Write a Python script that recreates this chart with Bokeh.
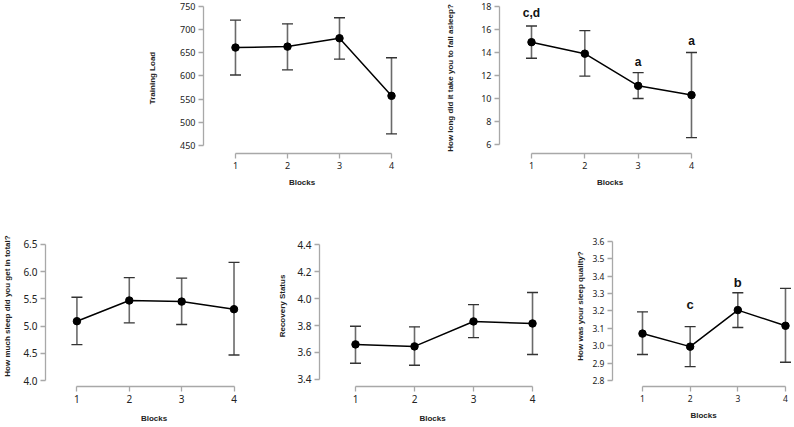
from bokeh.plotting import figure
from bokeh.layouts import row, column
from bokeh.models import (ColumnDataSource, Range1d, FixedTicker, Whisker, TeeHead,
                          PrintfTickFormatter, Spacer)
from bokeh.embed import file_html
from bokeh.resources import INLINE
from bokeh.core.properties import value

blocks = [1, 2, 3, 4]

# Training load per block (mean, lower, upper)
load_mean = [661, 663, 681, 557]
load_lo = [602, 613, 636, 475]
load_hi = [720, 712, 725, 639]

# Sleep latency
latency_mean = [14.9, 13.9, 11.1, 10.3]
latency_lo = [13.5, 11.95, 10.0, 6.6]
latency_hi = [16.3, 15.9, 12.25, 14.0]
latency_marks = ["c,d", "", "a", "a"]

# Total sleep
total_mean = [5.09, 5.47, 5.45, 5.31]
total_lo = [4.66, 5.06, 5.03, 4.47]
total_hi = [5.53, 5.89, 5.88, 6.17]

# Recovery status
recovery_mean = [3.66, 3.645, 3.83, 3.815]
recovery_lo = [3.52, 3.505, 3.71, 3.585]
recovery_hi = [3.795, 3.79, 3.955, 4.045]

# Sleep quality
quality_mean = [3.07, 2.995, 3.205, 3.115]
quality_lo = [2.95, 2.88, 3.105, 2.905]
quality_hi = [3.195, 3.11, 3.305, 3.33]
quality_marks = ["", "c", "b", ""]

TICK_FONT = "Noto Sans"
LABEL_FONT = "Liberation Sans"


def panel(mean, lo, hi, ylabel, yticks, xr, yr, width, height, border, ystand,
          xstand, tick_size="9px", fmt=None, marks=None, mark_offsets=None,
          mark_size="12px"):
    left, top, bottom = border
    p = figure(width=width, height=height, x_range=Range1d(*xr), y_range=Range1d(*yr),
               output_backend="svg", toolbar_location=None,
               min_border_left=left, min_border_right=0,
               min_border_top=top, min_border_bottom=bottom)
    p.outline_line_color = None
    p.grid.visible = False
    p.background_fill_color = "white"

    p.xaxis.ticker = FixedTicker(ticks=blocks)
    p.xaxis.bounds = (blocks[0], blocks[-1])
    p.yaxis.ticker = FixedTicker(ticks=yticks)
    p.yaxis.bounds = (yticks[0], yticks[-1])
    if fmt:
        p.yaxis.formatter = PrintfTickFormatter(format=fmt)

    p.xaxis.axis_label = "Blocks"
    p.yaxis.axis_label = ylabel
    for ax in (p.xaxis, p.yaxis):
        ax.axis_line_color = "#a8a8a8"
        ax.axis_line_width = 1.3
        ax.major_tick_line_color = "#a8a8a8"
        ax.major_tick_line_width = 1.3
        ax.major_tick_out = 5
        ax.major_tick_in = 0
        ax.minor_tick_line_color = None
        ax.major_label_text_font = TICK_FONT
        ax.major_label_text_font_size = tick_size
        ax.major_label_text_color = "#222222"
        ax.axis_label_text_font = LABEL_FONT
        ax.axis_label_text_font_style = "bold"
        ax.axis_label_text_font_size = "8px"
        ax.axis_label_text_color = "#222222"
    p.yaxis.major_label_standoff = 3
    p.xaxis.major_label_standoff = 3
    p.yaxis.axis_label_standoff = ystand
    p.xaxis.axis_label_standoff = xstand

    src = ColumnDataSource(dict(x=blocks, y=mean, lo=lo, hi=hi))
    whisk = Whisker(source=src, base="x", lower="lo", upper="hi", dimension="height",
                    line_color="#6a6a6a", line_width=1.6,
                    upper_head=TeeHead(size=11, line_color="#333333", line_width=1.4),
                    lower_head=TeeHead(size=11, line_color="#333333", line_width=1.4))
    p.add_layout(whisk)
    p.line("x", "y", source=src, line_color="black", line_width=1.5)
    p.scatter("x", "y", source=src, size=7.5, fill_color="black", line_color="black")

    if marks:
        for x, m, h, off in zip(blocks, marks, hi, mark_offsets):
            if m:
                p.text(x=[x], y=[h], text=[m], text_align="center", text_baseline="middle",
                       y_offset=-off, text_font=value(LABEL_FONT), text_font_style="bold",
                       text_font_size=mark_size, text_color="#111111")
    return p


p1 = panel(load_mean, load_lo, load_hi, "Training Load", [450, 500, 550, 600, 650, 700, 750],
           (0.385, 4.173), (432.8, 758.0), 260, 215, (63, 2, 62), 20, 6)
p2 = panel(latency_mean, latency_lo, latency_hi, "How long did it take you to fall asleep?",
           [6, 8, 10, 12, 14, 16, 18], (0.4, 4.544), (5.217, 18.35), 300, 215, (79, 2, 62), 23, 6,
           marks=latency_marks, mark_offsets=[13, 0, 11, 12])
p3 = panel(total_mean, total_lo, total_hi, "How much sleep did you get in total?",
           [4.0, 4.5, 5.0, 5.5, 6.0, 6.5], (0.4, 4.544), (3.891, 6.847), 262, 212, (41, 10, 40),
           8, 8, tick_size="10px", fmt="%.1f")
p4 = panel(recovery_mean, recovery_lo, recovery_hi, "Recovery Status",
           [3.4, 3.6, 3.8, 4.0, 4.2, 4.4], (0.39, 4.22), (3.348, 4.541), 283, 212, (57, 10, 41),
           7, 8, tick_size="10px", fmt="%.1f")
p5 = panel(quality_mean, quality_lo, quality_hi, "How was your sleep quality?",
           [2.8, 2.9, 3.0, 3.1, 3.2, 3.3, 3.4, 3.5, 3.6], (0.371, 4.189), (2.766, 3.691), 249, 212,
           (67, 10, 39), 4, 6, tick_size="8.5px", fmt="%.1f",
           marks=quality_marks, mark_offsets=[0, 22, 10, 0], mark_size="13px")

top = row(Spacer(width=140, height=215), p1, Spacer(width=20, height=215), p2,
          Spacer(width=74, height=215))
bottom = row(p3, p4, p5)
layout = column(top, bottom)

open("out.html", "w").write(file_html(layout, INLINE))
